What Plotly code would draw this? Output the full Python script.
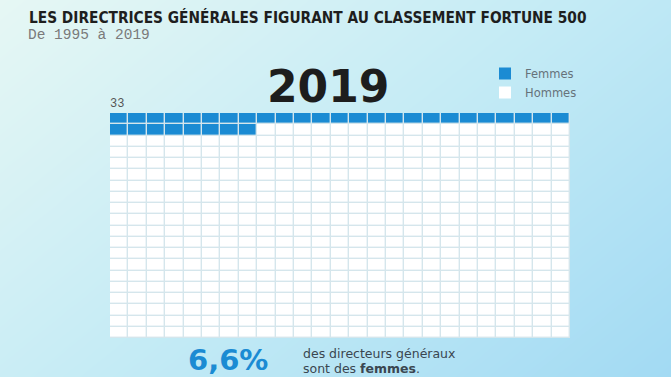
import numpy as np
import plotly.graph_objects as go

# ---- data ----
year = "2019"
women = 33
total = 500
n_cols = 25
n_rows = total // n_cols
labels = ["Femmes", "Hommes"]
colors = ["#1b8bd3", "#ffffff"]

W, H = 671, 377

# waffle matrix: 1 = woman, 0 = man
idx = np.arange(total).reshape(n_rows, n_cols)
z = (idx < women).astype(int)
pct = women / total * 100
pct_txt = f"{pct:.1f}%".replace(".", ",")

fig = go.Figure()

# background gradient (style only)
gx = np.linspace(0, 1, 60)
gy = np.linspace(0, 1, 40)
GX, GY = np.meshgrid(gx, gy)
G = 0.65 * GX + 0.45 * (1 - GY)
fig.add_trace(go.Heatmap(
    z=G, x=gx, y=gy, xaxis="x", yaxis="y", showscale=False, hoverinfo="skip",
    zsmooth="best",
    colorscale=[[0, "#e6f7f4"], [0.5, "#c4ebf5"], [1, "#a2daf3"]],
))

# gap colour under the waffle
fig.add_trace(go.Heatmap(
    z=[[0]], x=[-0.5, n_cols - 0.5], y=[-0.5, n_rows - 0.5],
    xaxis="x2", yaxis="y2", showscale=False, hoverinfo="skip",
    colorscale=[[0, "#d5e6ec"], [1, "#d5e6ec"]],
))

# waffle cells
fig.add_trace(go.Heatmap(
    z=z, x=list(range(n_cols)), y=list(range(n_rows)),
    xaxis="x2", yaxis="y2", showscale=False, xgap=1.4, ygap=1.4,
    zmin=0, zmax=1,
    colorscale=[[0, colors[1]], [0.5, colors[1]], [0.5, colors[0]], [1, colors[0]]],
    hoverinfo="skip",
))

# legend entries
for lab, col in zip(labels, colors):
    fig.add_trace(go.Scatter(
        x=[None], y=[None], mode="markers", name=lab, xaxis="x2", yaxis="y2",
        marker=dict(symbol="square", size=9, color=col, line=dict(width=0)),
    ))

x0, x1 = 110 / W, 570 / W
y0, y1 = 1 - 338 / H, 1 - 113 / H

fig.update_layout(
    width=W, height=H,
    margin=dict(l=0, r=0, t=0, b=0),
    paper_bgcolor="#cdeff6",
    plot_bgcolor="rgba(0,0,0,0)",
    showlegend=True,
    legend=dict(x=485 / W, y=1 - 59 / H, xanchor="left", yanchor="top",
                bgcolor="rgba(0,0,0,0)", font=dict(family="DejaVu Sans, sans-serif",
                                                  size=11.5, color="#66727a"),
                itemsizing="constant", tracegroupgap=0),
    xaxis=dict(domain=[0, 1], range=[0, 1], visible=False, fixedrange=True),
    yaxis=dict(domain=[0, 1], range=[0, 1], visible=False, fixedrange=True),
    xaxis2=dict(domain=[x0, x1], range=[-0.5, n_cols - 0.5], visible=False, anchor="y2"),
    yaxis2=dict(domain=[y0, y1], range=[n_rows - 0.5, -0.5], visible=False, anchor="x2"),
)

ann = [
    dict(text="LES DIRECTRICES GÉNÉRALES FIGURANT AU CLASSEMENT FORTUNE 500",
         x=27 / W, y=1 - 17 / H, xanchor="left", yanchor="middle",
         font=dict(family="DejaVu Sans Condensed, sans-serif",
                   size=15.3, color="#1e1e1e", weight="bold")),
    dict(text="De 1995 à 2019", x=26 / W, y=1 - 35 / H, xanchor="left", yanchor="middle",
         font=dict(family="Liberation Mono, monospace", size=14.5, color="#7a7a7a")),
    dict(text=f"<b>{year}</b>", x=328 / W, y=1 - 86 / H, xanchor="center", yanchor="middle",
         font=dict(family="DejaVu Sans, sans-serif", size=44, color="#1d1d1d")),
    dict(text=str(women), x=108 / W, y=1 - 104 / H, xanchor="left", yanchor="middle",
         font=dict(family="Liberation Mono, monospace", size=12, color="#555555")),
    dict(text=f"<b>{pct_txt}</b>", x=228 / W, y=1 - 360 / H, xanchor="center", yanchor="middle",
         font=dict(family="DejaVu Sans, sans-serif", size=29, color=colors[0])),
    dict(text="des directeurs généraux", x=301 / W, y=1 - 353 / H,
         xanchor="left", yanchor="middle", align="left",
         font=dict(family="DejaVu Sans, sans-serif", size=12.5, color="#3a4650")),
    dict(text="sont des <b>femmes</b>.", x=301 / W, y=1 - 368 / H,
         xanchor="left", yanchor="middle", align="left",
         font=dict(family="DejaVu Sans, sans-serif", size=12.5, color="#3a4650")),
]
for a in ann:
    a.update(xref="paper", yref="paper", showarrow=False)
fig.update_layout(annotations=ann)

fig.write_html("out.html")
